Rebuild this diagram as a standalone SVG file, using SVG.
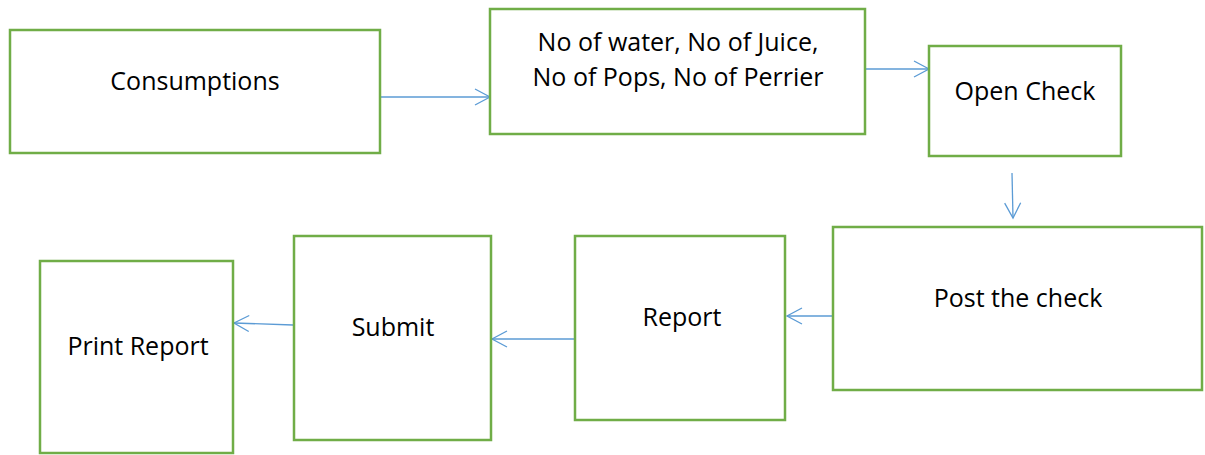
<svg xmlns="http://www.w3.org/2000/svg" width="1205" height="455" viewBox="0 0 1205 455">
<style>
.box{fill:#fff;stroke:#70AD47;stroke-width:2.5}
.lbl{font-family:"Open Sans","Liberation Sans",sans-serif;font-size:25px;fill:#000;text-anchor:middle}
.con{stroke:#5B9BD5;stroke-width:1.3;fill:none}
</style>
<defs>
<marker id="ah" markerUnits="userSpaceOnUse" markerWidth="20" markerHeight="20" refX="16" refY="10" orient="auto" viewBox="0 0 20 20">
<path d="M1,2 L16,10 L1,18" fill="none" stroke="#5B9BD5" stroke-width="1.3"/>
</marker>
</defs>
<rect width="1205" height="455" fill="#fff"/>
<g id="connectors">
<line class="con" x1="381" y1="97" x2="490" y2="97" marker-end="url(#ah)"/>
<line class="con" x1="866" y1="69" x2="929" y2="69" marker-end="url(#ah)"/>
<line class="con" x1="1012" y1="173" x2="1013" y2="218" marker-end="url(#ah)"/>
<line class="con" x1="832" y1="316" x2="787" y2="316" marker-end="url(#ah)"/>
<line class="con" x1="574" y1="339" x2="492" y2="339" marker-end="url(#ah)"/>
<line class="con" x1="293" y1="325" x2="234" y2="323" marker-end="url(#ah)"/>
</g>
<g id="consumptions"><rect class="box" x="10" y="30" width="370" height="123"/><text class="lbl" x="195" y="90">Consumptions</text></g>
<g id="items"><rect class="box" x="490" y="9" width="375" height="125"/><text class="lbl" x="678" y="51">No of water, No of Juice,</text><text class="lbl" x="678" y="86">No of Pops, No of Perrier</text></g>
<g id="open-check"><rect class="box" x="929" y="46" width="192" height="110"/><text class="lbl" x="1025" y="100">Open Check</text></g>
<g id="post-check"><rect class="box" x="833" y="227" width="369" height="163"/><text class="lbl" x="1018" y="307">Post the check</text></g>
<g id="report"><rect class="box" x="575" y="236" width="210" height="184"/><text class="lbl" x="682" y="326">Report</text></g>
<g id="submit"><rect class="box" x="294" y="236" width="197" height="204"/><text class="lbl" x="393" y="336">Submit</text></g>
<g id="print-report"><rect class="box" x="40" y="261" width="193" height="192"/><text class="lbl" x="138" y="355">Print Report</text></g>
</svg>
